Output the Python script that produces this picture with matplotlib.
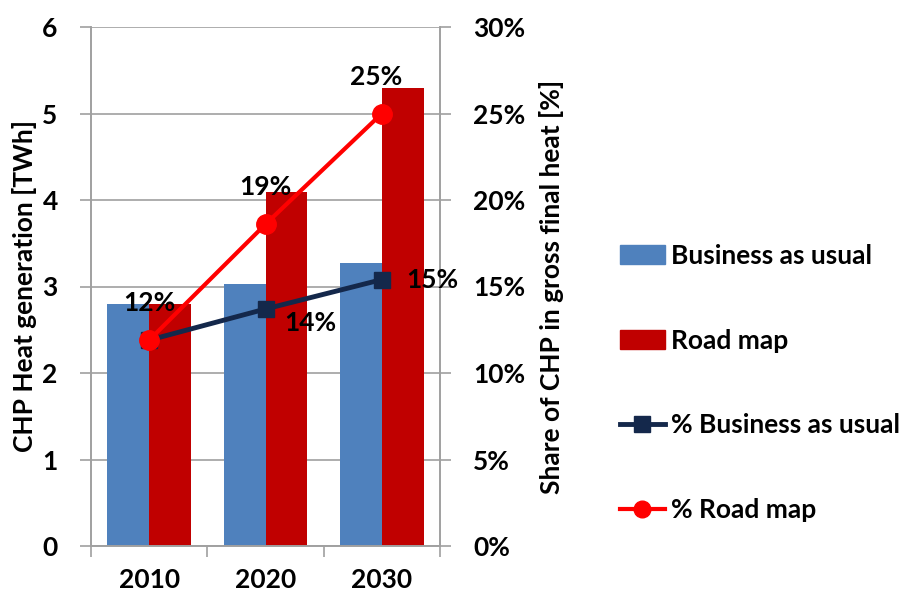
import numpy as np
import matplotlib.pyplot as plt
from matplotlib.patches import Patch
from matplotlib.lines import Line2D

plt.rcParams['font.family'] = ['Lato', 'DejaVu Sans']
plt.rcParams['font.weight'] = 'bold'

# data
years = ["2010", "2020", "2030"]
bau_twh = [2.80, 3.03, 3.27]
road_twh = [2.80, 4.09, 5.29]
bau_share = [11.9, 13.7, 15.4]
road_share = [11.9, 18.6, 25.0]
bau_labels = ["", "14%", "15%"]
road_labels = ["12%", "19%", "25%"]

blue = "#4F81BD"
red = "#C00000"
navy = "#14284B"
bright_red = "#FF0000"
grid_col = "#A0A0A0"
fs = 19

fig = plt.figure(figsize=(9.01, 5.99), dpi=100)
ax = fig.add_axes([91 / 901, 53 / 599, 349 / 901, 519 / 599])
ax2 = ax.twinx()

x = np.arange(len(years))
w = 0.36
ax.bar(x - w / 2, bau_twh, w, color=blue, zorder=2)
ax.bar(x + w / 2, road_twh, w, color=red, zorder=2)

ax.set_xlim(-0.5, 2.5)
ax.set_ylim(0, 6)
ax.set_yticks(range(7))
ax.yaxis.grid(True, color=grid_col, lw=1.2, zorder=0)
ax.set_axisbelow(True)
ax.set_xticks(x)
ax.set_xticklabels(years, fontsize=fs, fontweight='bold')
ax.set_xticks([-0.5, 0.5, 1.5, 2.5], minor=True)
ax.tick_params(axis='x', which='major', length=0, pad=16)
ax.tick_params(axis='x', which='minor', length=8, color=grid_col, width=1.2)
ax.tick_params(axis='y', length=8, color=grid_col, width=1.2, labelsize=fs, pad=16)
ax.set_ylabel("CHP Heat generation [TWh]", fontsize=fs, fontweight='bold', labelpad=4)

for side in ["left", "right", "bottom"]:
    ax.spines[side].set_color(grid_col)
    ax.spines[side].set_linewidth(1.2)
    ax2.spines[side].set_color(grid_col)
    ax2.spines[side].set_linewidth(1.2)
ax.spines["top"].set_visible(False)
ax2.spines["top"].set_visible(False)

ax2.plot(x, bau_share, color=navy, lw=3.5, marker='s', ms=12, zorder=3)
ax2.plot(x, road_share, color=bright_red, lw=3, marker='o', ms=14, zorder=4)
ax2.set_ylim(0, 30)
ax2.set_yticks(range(0, 31, 5))
ax2.set_yticklabels([f"{v}%" for v in range(0, 31, 5)])
ax2.tick_params(axis='y', length=8, color=grid_col, width=1.2, labelsize=fs, pad=16)
ax2.set_ylabel("Share of CHP in gross final heat [%]", fontsize=fs, fontweight='bold', labelpad=10)

# data labels
ax2.annotate(road_labels[0], (x[0], road_share[0]), xytext=(0, 27), textcoords='offset points',
             ha='center', va='center', fontsize=fs, fontweight='bold')
ax2.annotate(road_labels[1], (x[1], road_share[1]), xytext=(0, 27), textcoords='offset points',
             ha='center', va='center', fontsize=fs, fontweight='bold')
ax2.annotate(road_labels[2], (x[2], road_share[2]), xytext=(-4, 26), textcoords='offset points',
             ha='center', va='center', fontsize=fs, fontweight='bold')
ax2.annotate(bau_labels[1], (x[1], bau_share[1]), xytext=(32, -10), textcoords='offset points',
             ha='center', va='center', fontsize=fs, fontweight='bold')
ax2.annotate(bau_labels[2], (x[2], bau_share[2]), xytext=(36, 0), textcoords='offset points',
             ha='center', va='center', fontsize=fs, fontweight='bold')

handles = [
    Patch(color=blue, label="Business as usual"),
    Patch(color=red, label="Road map"),
    Line2D([], [], color=navy, lw=3.5, marker='s', ms=12, label="% Business as usual"),
    Line2D([], [], color=bright_red, lw=3, marker='o', ms=12, label="% Road map"),
]
fig.legend(handles=handles, loc='center left', bbox_to_anchor=(596 / 901, 1 - 383 / 599),
           frameon=False, labelspacing=2.3, handlelength=1.7, handletextpad=0.25,
           prop={'weight': 'bold', 'size': fs})

fig.savefig("out.png", dpi=100)
